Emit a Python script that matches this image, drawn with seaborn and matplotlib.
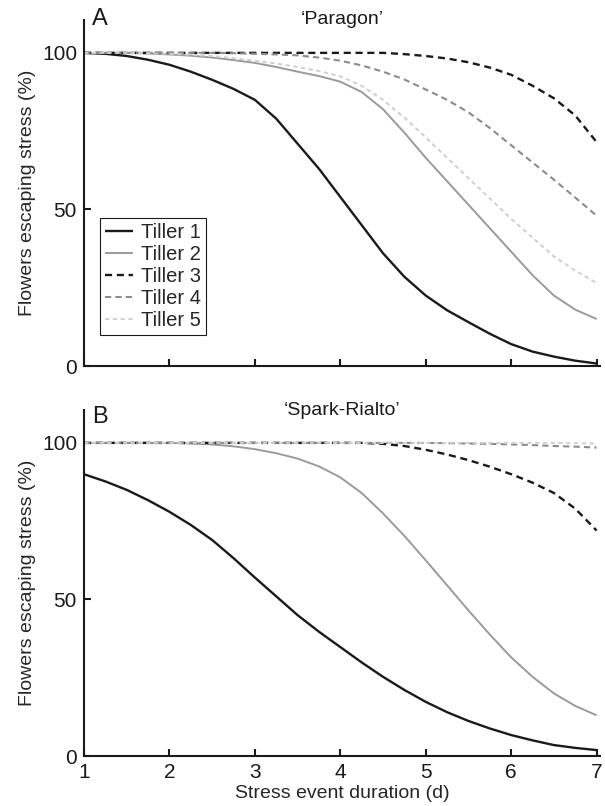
import numpy as np
import pandas as pd
import matplotlib
matplotlib.use("Agg")
import matplotlib.pyplot as plt
import seaborn as sns

# ---- data ----
duration = [1, 1.25, 1.5, 1.75, 2, 2.25, 2.5, 2.75, 3, 3.25, 3.5, 3.75, 4,
            4.25, 4.5, 4.75, 5, 5.25, 5.5, 5.75, 6, 6.25, 6.5, 6.75, 7]
tillers = ["Tiller 1", "Tiller 2", "Tiller 3", "Tiller 4", "Tiller 5"]

paragon_t1 = [100, 99.7, 99, 97.8, 96.2, 94, 91.4, 88.5, 85, 79, 71, 63, 54,
              45, 36, 28.5, 22.5, 17.8, 14, 10.3, 7, 4.6, 3, 1.7, 0.8]
paragon_t2 = [100, 100, 100, 99.8, 99.5, 99.1, 98.5, 97.7, 96.8, 95.5, 94, 92.6, 90.8,
              87.5, 82, 74.5, 66.5, 59, 51.5, 44, 36.5, 29, 22.5, 18, 15]
paragon_t3 = [100, 100, 100, 100, 100, 100, 100, 100, 100, 100, 100, 100, 100,
              100, 100, 99.6, 99, 98.2, 97, 95.3, 93, 89.5, 85.5, 80, 71.5]
paragon_t4 = [100, 100, 100, 100, 100, 100, 100, 99.9, 99.7, 99.5, 99.2, 98.5, 97.5,
              96, 94, 91.5, 88.3, 85, 81, 76, 70.5, 65, 59.5, 53.8, 48]
paragon_t5 = [100, 100, 100, 99.9, 99.7, 99.4, 99, 98.3, 97.5, 96.6, 95.5, 94.2, 92.5,
              89.5, 85, 79.3, 73, 66.5, 60, 53.5, 47, 41, 35, 30.5, 26.5]

spark_t1 = [90, 87.7, 85, 81.7, 78, 73.8, 69, 63.2, 57, 51, 45, 39.7, 34.8,
            29.9, 25.3, 21.1, 17.3, 14, 11.2, 8.8, 6.7, 5, 3.5, 2.6, 1.9]
spark_t2 = [100, 100, 100, 100, 100, 99.8, 99.5, 98.9, 98, 96.7, 95, 92.5, 89,
            84, 77.5, 70.3, 62.5, 54.5, 46.5, 38.8, 31.5, 25.3, 20, 16, 13]
spark_t3 = [100, 100, 100, 100, 100, 100, 100, 100, 100, 100, 100, 100, 100,
            100, 99.7, 99, 97.8, 96.3, 94.5, 92.4, 90, 87.3, 84, 79, 72]
spark_t4 = [100, 100, 100, 100, 100, 100, 100, 100, 100, 100, 100, 100, 100,
            100, 100, 100, 100, 99.9, 99.8, 99.7, 99.5, 99.3, 99, 98.8, 98.5]
spark_t5 = [100, 100, 100, 100, 100, 100, 100, 100, 100, 100, 100, 100, 100,
            100, 100, 100, 100, 100, 100, 100, 100, 100, 100, 99.9, 99.8]

panels = [
    ("A", "\u2018Paragon\u2019", [paragon_t1, paragon_t2, paragon_t3, paragon_t4, paragon_t5]),
    ("B", "\u2018Spark-Rialto\u2019", [spark_t1, spark_t2, spark_t3, spark_t4, spark_t5]),
]

x_ticks = [1, 2, 3, 4, 5, 6, 7]
y_ticks = [0, 50, 100]

# ---- styles ----
colors = ["#1a1a1a", "#9a9a9a", "#1a1a1a", "#8c8c8c", "#cfcfcf"]
widths = [1.7, 1.4, 1.7, 1.5, 1.4]
dashes = [None, None, (3.0, 2.0), (3.0, 2.0), (2.2, 1.8)]

sns.set_style("ticks")
plt.rcParams["font.family"] = ["Liberation Sans", "DejaVu Sans"]
plt.rcParams["font.size"] = 14

fig = plt.figure(figsize=(6.05, 8.06), dpi=100)
ax_a = fig.add_axes([0.1388, 0.5459, 0.853, 0.4293])
ax_b = fig.add_axes([0.1388, 0.0620, 0.853, 0.4293])
axes = [ax_a, ax_b]

for ax, (letter, title, series) in zip(axes, panels):
    for name, vals, c, lw, d in zip(tillers, series, colors, widths, dashes):
        df = pd.DataFrame({"duration": duration, "pct": vals})
        sns.lineplot(data=df, x="duration", y="pct", ax=ax, color=c,
                     linewidth=lw, label=name, legend=False)
        ln = ax.lines[-1]
        if d is not None:
            ln.set_dashes(d)
        ln.set_solid_capstyle("butt")
    ax.set_xlim(1, 7.04)
    ax.set_ylim(0, 110.5)
    ax.set_xticks(x_ticks)
    ax.set_yticks(y_ticks)
    for s in ["top", "right"]:
        ax.spines[s].set_visible(False)
    for s in ["left", "bottom"]:
        ax.spines[s].set_linewidth(1.5)
        ax.spines[s].set_color("#1a1a1a")
    ax.tick_params(direction="in", length=5, width=1.5, colors="#1a1a1a",
                   labelsize=15, pad=5)
    ax.set_ylabel("Flowers escaping stress (%)", fontsize=14, labelpad=4)
    ax.set_xlabel("")
    ax.text(0.5, 1.0, title, transform=ax.transAxes, ha="center", va="center",
            fontsize=14, color="#1a1a1a")

ax_a.text(0.016, 1.003, "A", transform=ax_a.transAxes, ha="left", va="center",
          fontsize=17, color="#1a1a1a")
ax_b.text(0.016, 0.98, "B", transform=ax_b.transAxes, ha="left", va="center",
          fontsize=17, color="#1a1a1a")

ax_a.tick_params(axis="x", labelbottom=False)
ax_b.set_xlabel("Stress event duration (d)", fontsize=14, labelpad=2)

handles = ax_a.lines[:5]
leg = ax_a.legend(handles, tillers, loc="upper left", bbox_to_anchor=(0.031, 0.428),
                  borderaxespad=0, fontsize=14.5, handlelength=1.4, handletextpad=0.4,
                  borderpad=0.25, labelspacing=0.15, fancybox=False, framealpha=1,
                  edgecolor="#1a1a1a")
leg.get_frame().set_linewidth(0.8)

fig.savefig("out.png", dpi=100)
